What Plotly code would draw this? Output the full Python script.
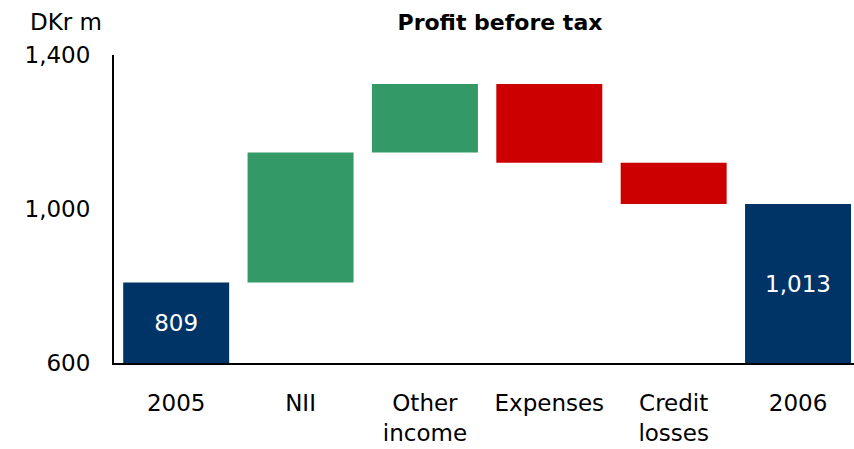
import plotly.graph_objects as go

# Profit before tax bridge, DKr m
categories = ["2005", "NII", "Other<br>income", "Expenses", "Credit<br>losses", "2006"]
start_value = 809
changes = [338, 178, -205, -107]   # NII, Other income, Expenses, Credit losses
end_value = 1013
y_ticks = [600, 1000, 1400]
y_tick_labels = ["600", "1,000", "1,400"]
Y_MIN, Y_MAX = 600, 1400

NAVY = "#003366"
GREEN = "#339966"
RED = "#CC0000"

# floating bars: totals sit on the axis floor, changes float on the running sum
bases, heights, colors, texts = [], [], [], []
bases.append(Y_MIN)
heights.append(start_value - Y_MIN)
colors.append(NAVY)
texts.append(f"{start_value:,}")
running = start_value
for d in changes:
    if d >= 0:
        bases.append(running)
        heights.append(d)
        colors.append(GREEN)
    else:
        bases.append(running + d)
        heights.append(-d)
        colors.append(RED)
    texts.append("")
    running += d
bases.append(Y_MIN)
heights.append(end_value - Y_MIN)
colors.append(NAVY)
texts.append(f"{end_value:,}")

FONT = "DejaVu Sans"

fig = go.Figure(
    go.Bar(
        x=list(range(len(categories))),
        y=heights,
        base=bases,
        marker=dict(color=colors, line=dict(width=0)),
        text=texts,
        textposition="inside",
        insidetextanchor="middle",
        textangle=0,
        textfont=dict(color="white", size=23, family=FONT),
        hoverinfo="skip",
    )
)

fig.update_layout(
    width=854,
    height=449,
    margin=dict(l=114, r=0, t=55, b=86),
    paper_bgcolor="white",
    plot_bgcolor="white",
    bargap=0.148,
    showlegend=False,
    font=dict(family=FONT, color="black", size=23),
    title=dict(
        text="<b>Profit before tax</b>",
        x=0.5216,
        xref="paper",
        xanchor="center",
        y=0.951,
        yref="container",
        yanchor="middle",
        font=dict(size=22, family=FONT, color="black"),
    ),
    xaxis=dict(
        range=[-0.5, 5.45],
        tickmode="array",
        tickvals=list(range(len(categories))),
        ticktext=categories,
        showline=True,
        linecolor="black",
        linewidth=2,
        ticks="",
        showgrid=False,
        zeroline=False,
        ticklabelstandoff=18,
        tickfont=dict(size=23, family=FONT),
    ),
    yaxis=dict(
        range=[Y_MIN, Y_MAX],
        tickmode="array",
        tickvals=y_ticks,
        ticktext=y_tick_labels,
        showline=True,
        linecolor="black",
        linewidth=2,
        ticks="",
        showgrid=False,
        zeroline=False,
        ticklabelstandoff=17,
        tickfont=dict(size=23, family=FONT),
    ),
    annotations=[
        dict(
            text="DKr m",
            xref="paper",
            yref="paper",
            x=(28 - 114) / 740,
            y=1.108,
            xanchor="left",
            yanchor="middle",
            showarrow=False,
            font=dict(size=23, family=FONT, color="black"),
        )
    ],
)

fig.write_html("out.html")
